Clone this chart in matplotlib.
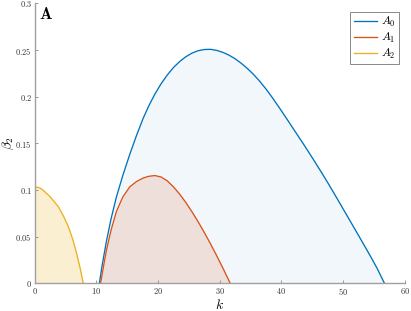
import matplotlib
matplotlib.use("Agg")
import matplotlib.pyplot as plt
from matplotlib.ticker import FuncFormatter

plt.rcParams['mathtext.fontset'] = 'cm'
plt.rcParams['font.family'] = 'serif'

# curves (k, beta_2)
k0 = [10.5, 11.0, 11.66, 12.4, 13.27, 14.3, 15.42, 16.5, 17.58, 18.5,
      19.5, 20.5, 21.5, 22.5, 23.5, 24.5, 25.5, 26.5, 27.5, 28.5,
      29.5, 30.5, 31.5, 32.5, 33.5, 34.5, 35.5, 36.5, 37.5, 38.5,
      39.5, 40.5, 41.5, 42.5, 43.5, 44.5, 45.5, 46.5, 47.5, 48.5,
      49.5, 50.5, 51.5, 52.5, 53.5, 54.5, 55.5, 56.7]
b0 = [0.0, 0.021, 0.0454, 0.0691, 0.0926, 0.1155, 0.138, 0.158, 0.1765, 0.19,
      0.2028, 0.2138, 0.2232, 0.2312, 0.2376, 0.2428, 0.2467, 0.2493, 0.2506, 0.2508,
      0.2497, 0.2476, 0.2446, 0.2407, 0.2358, 0.2302, 0.2238, 0.2165, 0.2083, 0.1993,
      0.1898, 0.18, 0.17, 0.16, 0.15, 0.1398, 0.1294, 0.1188, 0.108, 0.0968,
      0.0855, 0.0741, 0.0627, 0.0513, 0.0398, 0.0282, 0.0162, 0.0]

k1 = [10.7, 11.2, 11.66, 12.4, 13.27, 14.3, 15.42, 16.5, 17.58, 18.5, 19.5,
      20.5, 21.5, 22.5, 23.5, 24.5, 25.5, 26.5, 27.5, 28.5, 29.5, 30.5, 31.5, 31.7]
b1 = [0.0, 0.019, 0.0357, 0.057, 0.077, 0.0925, 0.1033, 0.109, 0.1128, 0.1147, 0.1155,
      0.114, 0.1099, 0.1035, 0.0957, 0.0868, 0.0768, 0.0661, 0.0546, 0.0425, 0.0298,
      0.0166, 0.0029, 0.0]

k2 = [0.0, 0.0, 0.5, 1.0, 1.7, 2.5, 3.2, 3.87, 4.7, 5.48, 6.2, 6.82, 7.4, 7.9]
b2 = [0.0, 0.1025, 0.103, 0.1018, 0.098, 0.093, 0.0875, 0.082, 0.072, 0.0607, 0.047, 0.032, 0.016, 0.0]

labels = ['$A_0$', '$A_1$', '$A_2$']
colors = ['#0072BD', '#D95319', '#EDB120']
alphas = [0.05, 0.14, 0.2]

fig = plt.figure(figsize=(4.11, 3.11), dpi=100)
ax = fig.add_axes([0.084, 0.089, 0.901, 0.9])

for kk, bb, lab, c, a in zip([k0, k1, k2], [b0, b1, b2], labels, colors, alphas):
    ax.fill_between(kk, bb, 0, color=c, alpha=a, linewidth=0)
    ax.plot(kk, bb, color=c, lw=0.95, label=lab)

ax.set_xlim(0, 60)
ax.set_ylim(0, 0.3)
ax.set_xticks([0, 10, 20, 30, 40, 50, 60])
ax.set_yticks([0, 0.05, 0.1, 0.15, 0.2, 0.25, 0.3])
fmt = FuncFormatter(lambda v, p: '$%g$' % round(v, 3))
ax.xaxis.set_major_formatter(fmt)
ax.yaxis.set_major_formatter(fmt)
ax.tick_params(direction='in', length=2.5, width=0.6, labelsize=6,
               colors='#888888', labelcolor='#333333', pad=2)

for s in ['top', 'right']:
    ax.spines[s].set_visible(False)
for s in ['left', 'bottom']:
    ax.spines[s].set_color('#a0a0a0')
    ax.spines[s].set_linewidth(1.0)

ax.set_xlabel('$k$', fontsize=10, labelpad=1)
ax.set_ylabel(r'$\beta_2$', fontsize=9.5)
ax.yaxis.set_label_coords(-0.049, 0.5)
ax.text(0.012, 0.99, r'$\mathbf{A}$', transform=ax.transAxes, fontsize=12,
        va='top', ha='left')

leg = ax.legend(loc='upper right', fontsize=8.5, fancybox=False, framealpha=1,
                edgecolor='#888888', handlelength=2.0, handletextpad=0.3,
                borderpad=0.3, labelspacing=0.15, borderaxespad=0,
                bbox_to_anchor=(0.984, 0.97))
leg.get_frame().set_linewidth(0.7)

fig.savefig('out.png', dpi=100)
